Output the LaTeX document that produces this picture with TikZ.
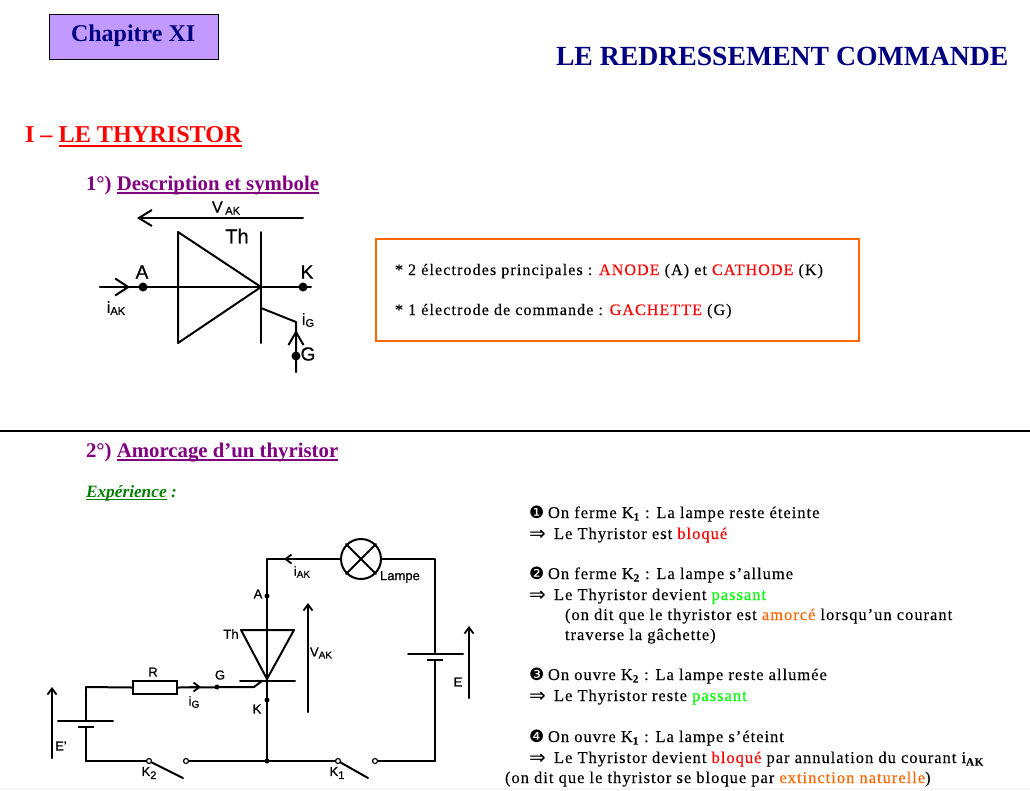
\documentclass[tikz,border=0pt]{standalone}
\usepackage{fontspec}
\setmainfont{Liberation Serif}
\newfontfamily\lab{Liberation Sans}[FakeBold=0.8]
\newfontfamily\sym{DejaVu Sans}
\usetikzlibrary{arrows.meta}
\definecolor{navy}{HTML}{000080}
\definecolor{purp}{HTML}{800080}
\definecolor{mauve}{HTML}{C299FF}
\definecolor{orng}{HTML}{FF6600}
\definecolor{grn}{HTML}{00FF00}
\definecolor{dgrn}{HTML}{008000}
\newcommand{\ftxt}[1]{\fontsize{#1}{#1}\selectfont}
\newcommand{\rd}[1]{\textcolor{red}{#1}}
\newcommand{\og}[1]{\textcolor{orng}{#1}}
\newcommand{\gn}[1]{\textcolor{grn}{#1}}
\newcommand{\sbb}[1]{\raisebox{-2.5pt}{\ftxt{11}\textbf{#1}}}
\newcommand{\impl}{\makebox[25pt][l]{\raisebox{-1.5pt}{\sym\ftxt{20}⇒}}}
\newcommand{\bul}[1]{\makebox[19pt][l]{\sym\ftxt{17}#1}}
\newcommand{\ulin}[3]{\leavevmode\setbox0\hbox{#1}\rlap{\raisebox{-#2}{\rule{\wd0}{#3}}}\box0\relax}
\tikzset{
  txt/.style={anchor=base west,inner sep=0pt,outer sep=0pt},
  body/.style={txt,font=\ftxt{16.5}\addfontfeature{LetterSpace=6,FakeBold=0.15}},
  box/.style={txt,font=\ftxt{16}\addfontfeature{LetterSpace=7,FakeBold=0.15}},
  head/.style={txt,font=\ftxt{20.8}\bfseries,text=purp},
  labA/.style={anchor=center,inner sep=0pt,font=\lab\ftxt{16}},
  labB/.style={anchor=center,inner sep=0pt,font=\lab\ftxt{13}},
  wire/.style={line width=2pt,line cap=round,line join=round},
  barA/.style={wire,-{Straight Barb[length=13pt,width=16pt,line width=2pt]}},
  barB/.style={wire,-{Straight Barb[length=6pt,width=9pt,line width=1.8pt]}},
  dotA/.style={circle,fill=black,inner sep=0pt,minimum size=9pt},
  dotB/.style={circle,fill=black,inner sep=0pt,minimum size=5pt},
  ring/.style={circle,draw,fill=white,line width=1.2pt,inner sep=0pt,minimum size=5pt},
}
\begin{document}
\begin{tikzpicture}[x=1pt,y=-1pt]
\useasboundingbox (0,0) rectangle (1030,790);
\fill[white] (0,0) rectangle (1030,790);
\fill[black!4] (0,788) rectangle (1030,790);
% headings
\node[draw=black,line width=1pt,fill=mauve,minimum width=169pt,minimum height=45pt,inner sep=0pt] (chapbox) at (133.5,36.5) {};
\node[txt,text=navy,font=\ftxt{24}\bfseries] (chap) at (71,41) {Chapitre XI};
\node[txt,text=navy,font=\ftxt{27.7}\bfseries] (title) at (556,65) {LE REDRESSEMENT COMMANDE};
\node[txt,text=red,font=\ftxt{24.2}\bfseries] (sec) at (25,142) {I – \ulin{LE THYRISTOR}{5pt}{1.6pt}};
\node[head] (h1) at (86,190) {1°) \ulin{Description et symbole}{4pt}{2pt}};
\node[head] (h2) at (86,457) {2°) \ulin{Amorcage d’un thyristor}{4pt}{2pt}};
\node[txt,font=\ftxt{17.3}\bfseries\itshape,text=dgrn] (exp) at (86,497) {\ulin{Expérience}{3pt}{1.5pt} :};
% separator
\coordinate (sepL) at (0,431); \coordinate (sepR) at (1030,431);
\draw[line width=2pt] (sepL) -- (sepR);
% symbol
\coordinate (vR) at (303,218); \coordinate (vL) at (137,218);
\draw[barA] (vR) -- (vL);
\node[labA] (vak) at (226,208) {V\,\raisebox{-2pt}{\ftxt{11}AK}};
\node[labA,font=\lab\ftxt{20}] (th) at (237,236) {Th};
\coordinate (t1) at (178,232); \coordinate (t2) at (178,343); \coordinate (t3) at (261,287);
\draw[wire] (t1) -- (t3) -- (t2) -- cycle;
\coordinate (b1) at (261,232); \coordinate (b2) at (261,343);
\draw[wire] (b1) -- (b2);
\coordinate (mL) at (100,287); \coordinate (mR) at (311,287); \coordinate (mT) at (130,287);
\draw[wire] (mL) -- (mR);
\draw[barA,-{Straight Barb[length=13pt,width=17pt,line width=2pt]}] (mL) -- (mT);
\node[dotA] (dA) at (143,287) {};
\node[dotA] (dK) at (303,287) {};
\node[labA,font=\lab\ftxt{19}] (lA) at (142,272) {A};
\node[labA,font=\lab\ftxt{19}] (lK) at (307,272) {K};
\node[labA] (iak) at (116,308) {i\raisebox{-2pt}{\ftxt{11}AK}};
\coordinate (g0) at (261,308); \coordinate (g1) at (296,322); \coordinate (g2) at (296,372); \coordinate (gT) at (296,330);
\draw[wire] (g0) -- (g1) -- (g2);
\coordinate (gS) at (296,350);
\draw[barA,-{Straight Barb[length=13pt,width=15pt,line width=2pt]}] (gS) -- (gT);
\node[dotA] (dG) at (296,356) {};
\node[labA] (ig) at (308,320) {i\raisebox{-2pt}{\ftxt{11}G}};
\node[labA,font=\lab\ftxt{19}] (lG) at (308,354) {G};
% orange box
\node[draw=orng,line width=2.4pt,minimum width=483pt,minimum height=102pt,inner sep=0pt] (obox) at (617.5,290) {};
\node[box] (o1) at (395,275) {* 2 électrodes principales : \rd{ANODE} (A) et \rd{CATHODE} (K)};
\node[box] (o2) at (395,315) {* 1 électrode de commande : \rd{GACHETTE} (G)};
% circuit
\coordinate (tl) at (267,559); \coordinate (tr) at (435,559); \coordinate (br) at (435,761);
\coordinate (bm) at (267,761); \coordinate (bl) at (86,761); \coordinate (gl) at (86,687);
\node[circle,draw,line width=2pt,fill=white,minimum size=40pt,inner sep=0pt] (lamp) at (361,559) {};
\draw[wire] (lamp.west) -- (tl) -- (bm);
\draw[wire] (lamp.east) -- (tr) -- (435,654);
\draw[wire] (lamp.north west) -- (lamp.south east);
\draw[wire] (lamp.north east) -- (lamp.south west);
\coordinate (iTip) at (284,559); \coordinate (iSt) at (300,559);
\draw[barB] (iSt) -- (iTip);
\node[labB] (liak) at (302,572) {i\raisebox{-2pt}{\ftxt{10}AK}};
\node[labB,font=\lab\ftxt{13}] (llamp) at (400,577) {Lampe};
\node[dotB] (dA2) at (267,596) {};
\node[labB] (lA2) at (258,594) {A};
\coordinate (u1) at (241,630); \coordinate (u2) at (294,630); \coordinate (u3) at (267,679);
\draw[wire] (u1) -- (u2) -- (u3) -- cycle;
\coordinate (v1) at (240,681); \coordinate (v2) at (295,681);
\draw[wire] (v1) -- (v2);
\node[labB] (lTh) at (231,634) {Th};
\node[dotB] (dK2) at (267,700) {};
\node[labB] (lK2) at (257,709) {K};
\coordinate (v3) at (308,712); \coordinate (v4) at (308,603);
\draw[barB] (v3) -- (v4);
\node[labB] (lvak) at (321,653) {V\raisebox{-2pt}{\ftxt{10}AK}};
% right battery
\coordinate (ep1) at (408,654); \coordinate (ep2) at (463,654);
\coordinate (es1) at (427,660); \coordinate (es2) at (443,660);
\draw[wire] (ep1) -- (ep2);
\draw[line width=2.8pt] (es1) -- (es2);
\draw[wire] (435,660) -- (br);
\coordinate (e1) at (469,698); \coordinate (e2) at (469,626);
\draw[barB] (e1) -- (e2);
\node[labB] (lE) at (458,682) {E};
% bottom with K1
\node[ring] (k1a) at (338,761) {};
\node[ring] (k1b) at (375,761) {};
\coordinate (k1c) at (368,778);
\draw[wire] (br) -- (k1b);
\draw[wire] (k1a) -- (bm);
\draw[wire] (k1a) -- (k1c);
\node[labB] (lk1) at (337,773) {K\raisebox{-3pt}{\ftxt{11}1}};
\node[dotB] (dM) at (267,761) {};
% K2
\node[ring] (k2a) at (149,761) {};
\node[ring] (k2b) at (186,761) {};
\coordinate (k2c) at (183,778);
\draw[wire] (bm) -- (k2b);
\draw[wire] (bl) -- (k2a);
\draw[wire] (k2a) -- (k2c);
\node[labB] (lk2) at (149,773) {K\raisebox{-3pt}{\ftxt{11}2}};
% left battery
\coordinate (fp1) at (58,721); \coordinate (fp2) at (113,721);
\coordinate (fs1) at (78,727); \coordinate (fs2) at (94,727);
\draw[wire] (fp1) -- (fp2);
\draw[line width=2.8pt] (fs1) -- (fs2);
\draw[wire] (86,721) -- (gl);
\draw[wire] (86,727) -- (bl);
\coordinate (f1) at (52,758); \coordinate (f2) at (52,687);
\draw[barB] (f1) -- (f2);
\node[labB] (lEp) at (61,746) {E’};
% gate
\node[draw,line width=2pt,fill=white,minimum width=44pt,minimum height=13pt,inner sep=0pt] (res) at (155,687.5) {};
\coordinate (gk) at (254,687); \coordinate (gj) at (262,681);
\draw[wire] (gl) -- (res.west);
\draw[wire] (res.east) -- (gk) -- (gj);
\coordinate (gt2) at (201,687); \coordinate (gs2) at (190,687);
\draw[barB] (gs2) -- (gt2);
\node[dotB] (dG2) at (217,687) {};
\node[labB] (lR) at (153,672) {R};
\node[labB] (lG2) at (220,675) {G};
\node[labB] (lig) at (194,702) {i\raisebox{-2pt}{\ftxt{10}G}};
% right text
\node[body] (s1) at (529,518) {\bul{❶}On ferme K\sbb{1} : La lampe reste éteinte};
\node[body] (s1b) at (529,539) {\impl Le Thyristor est \rd{bloqué}};
\node[body] (s2) at (529,579) {\bul{❷}On ferme K\sbb{2} : La lampe s’allume};
\node[body] (s2b) at (529,600) {\impl Le Thyristor devient \gn{passant}};
\node[body] (s2c) at (565,620) {(on dit que le thyristor est \og{amorcé} lorsqu’un courant};
\node[body] (s2d) at (565,640) {traverse la gâchette)};
\node[body] (s3) at (529,680) {\bul{❸}On ouvre K\sbb{2} : La lampe reste allumée};
\node[body] (s3b) at (529,701) {\impl Le Thyristor reste \gn{passant}};
\node[body] (s4) at (529,742) {\bul{❹}On ouvre K\sbb{1} : La lampe s’éteint};
\node[body] (s4b) at (529,763) {\impl Le Thyristor devient \rd{bloqué} par annulation du courant i\sbb{AK}};
\node[body] (s4c) at (505,783) {(on dit que le thyristor se bloque par \og{extinction naturelle})};
\end{tikzpicture}
\end{document}
